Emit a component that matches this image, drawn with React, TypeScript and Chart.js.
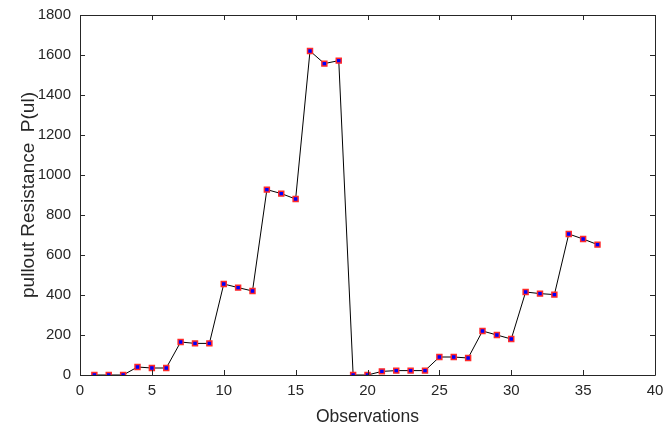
import React, { useEffect, useRef } from "react";
import { Chart, registerables } from "chart.js";

Chart.register(...registerables);

const observations: number[] = Array.from({ length: 36 }, (_, i) => i + 1);
const resistance: number[] = [
  0, 0, 0, 40, 35, 35, 165, 158, 158, 455, 437, 420,
  927, 907, 880, 1620, 1557, 1572, 0, 0, 18, 22, 22, 22,
  90, 90, 85, 220, 200, 180, 415, 407, 402, 705, 680, 652,
];
const xTicks: number[] = [0, 5, 10, 15, 20, 25, 30, 35, 40];
const yTicks: number[] = [0, 200, 400, 600, 800, 1000, 1200, 1400, 1600, 1800];

const FONT = "'Liberation Sans', Arial, Helvetica, sans-serif";

const boxTicks = {
  id: "boxTicks",
  afterDraw(chart: any) {
    const { ctx, chartArea: a, scales } = chart;
    const x = scales.x;
    const y = scales.y;
    ctx.save();
    ctx.strokeStyle = "#262626";
    ctx.lineWidth = 1;
    ctx.beginPath();
    ctx.rect(Math.round(a.left) + 0.5, Math.round(a.top) + 0.5, Math.round(a.right - a.left), Math.round(a.bottom - a.top));
    const L = 5;
    xTicks.forEach((v) => {
      const px = Math.round(x.getPixelForValue(v)) + 0.5;
      ctx.moveTo(px, a.bottom);
      ctx.lineTo(px, a.bottom - L);
      ctx.moveTo(px, a.top);
      ctx.lineTo(px, a.top + L);
    });
    yTicks.forEach((v) => {
      const py = Math.round(y.getPixelForValue(v)) + 0.5;
      ctx.moveTo(a.left, py);
      ctx.lineTo(a.left + L, py);
      ctx.moveTo(a.right, py);
      ctx.lineTo(a.right - L, py);
    });
    ctx.stroke();
    ctx.restore();
  },
};

export default function App() {
  const ref = useRef<HTMLCanvasElement>(null);
  useEffect(() => {
    if (!ref.current) return;
    const chart = new Chart(ref.current, {
      type: "line",
      data: {
        datasets: [
          {
            data: observations.map((o, i) => ({ x: o, y: resistance[i] })),
            borderColor: "#000000",
            borderWidth: 1,
            pointStyle: "rect",
            pointRadius: 3.5,
            pointBackgroundColor: "#0000ff",
            pointBorderColor: "#ff2a2a",
            pointBorderWidth: 1.5,
            tension: 0,
          },
        ],
      },
      options: {
        animation: false,
        responsive: false,
        maintainAspectRatio: false,
        layout: { padding: { left: 17, top: 15, right: 10, bottom: 0 } },
        plugins: { legend: { display: false }, tooltip: { enabled: false } },
        scales: {
          x: {
            type: "linear",
            min: 0,
            max: 40,
            afterBuildTicks: (s: any) => {
              s.ticks = xTicks.map((v) => ({ value: v }));
            },
            afterFit: (s: any) => {
              s.height = 55;
              s.paddingLeft = 0;
              s.paddingRight = 0;
            },
            grid: { display: false, drawTicks: false },
            border: { display: false },
            ticks: { color: "#262626", font: { family: FONT, size: 15 }, padding: 7 },
            title: {
              display: true,
              text: "Observations",
              color: "#262626",
              font: { family: FONT, size: 17.5 },
              padding: { top: 0, bottom: 2 },
            },
          },
          y: {
            type: "linear",
            min: 0,
            max: 1800,
            afterBuildTicks: (s: any) => {
              s.ticks = yTicks.map((v) => ({ value: v }));
            },
            afterFit: (s: any) => {
              s.width = 63;
              s.paddingTop = 0;
              s.paddingBottom = 0;
            },
            grid: { display: false, drawTicks: false },
            border: { display: false },
            ticks: {
              color: "#262626",
              font: { family: FONT, size: 15 },
              padding: 9,
              callback: (v: any) => String(v),
            },
            title: {
              display: true,
              text: "pullout Resistance  P(ul)",
              color: "#262626",
              font: { family: FONT, size: 19 },
              padding: { top: 0, bottom: 0 },
            },
          },
        },
      },
      plugins: [boxTicks],
    });
    return () => chart.destroy();
  }, []);
  return (
    <div style={{ position: "fixed", left: 0, top: 0, width: 665, height: 430, background: "#fff" }}>
      <canvas ref={ref} width={665} height={430} style={{ display: "block" }} />
    </div>
  );
}
